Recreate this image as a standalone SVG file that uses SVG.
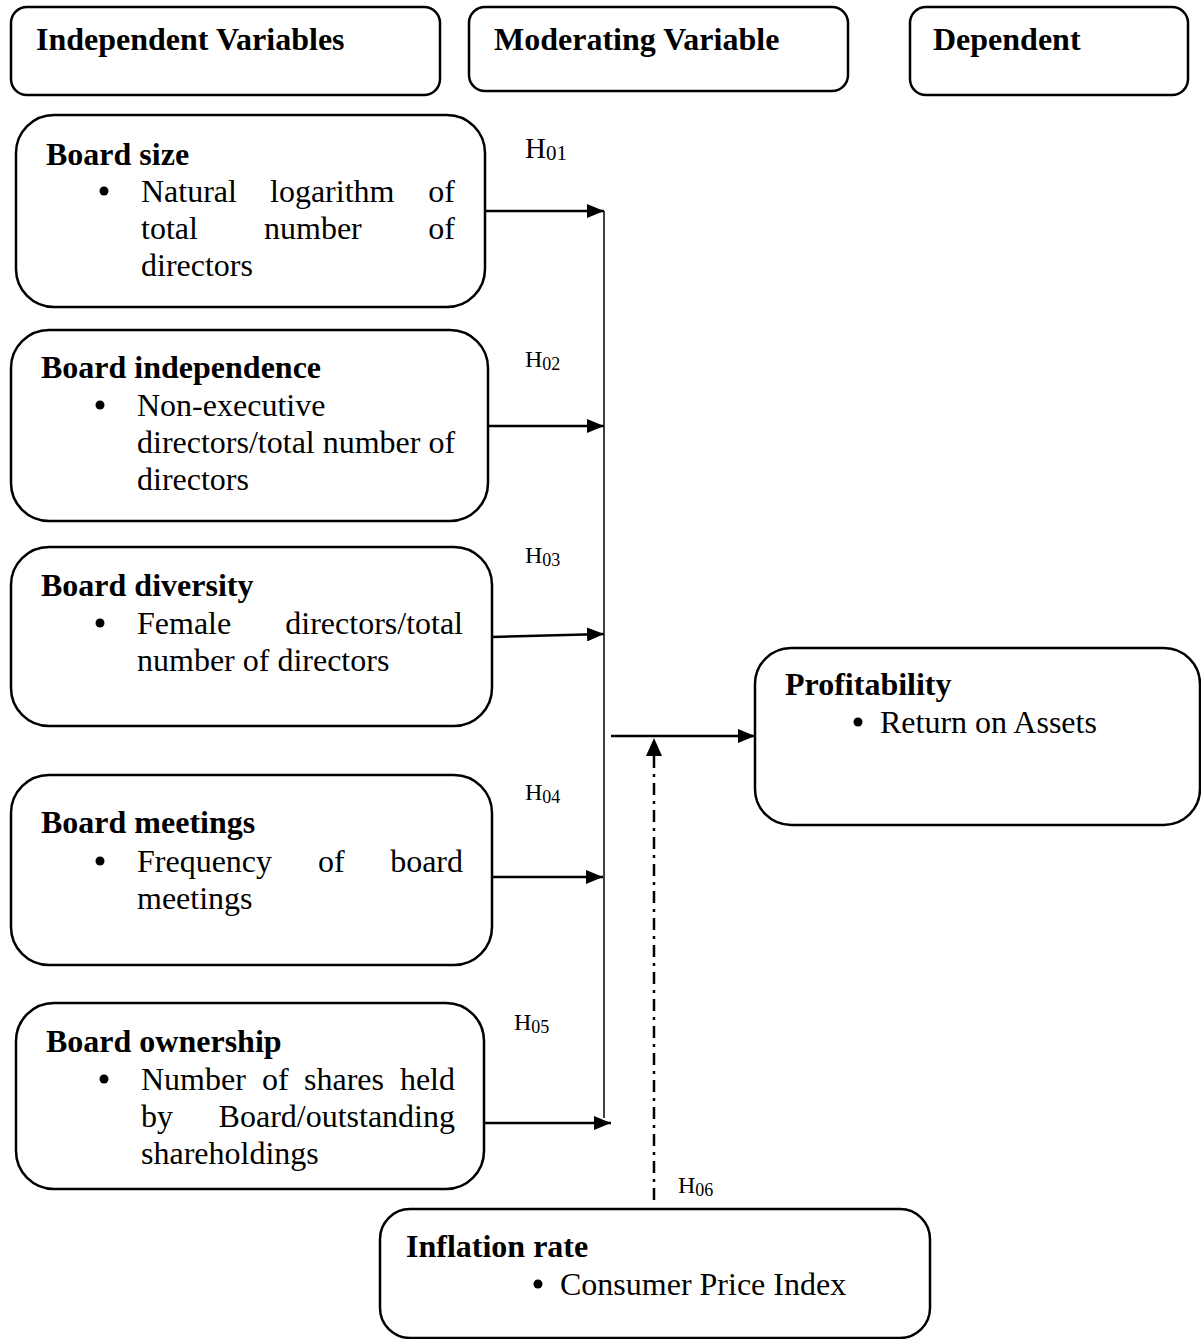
<svg xmlns="http://www.w3.org/2000/svg" width="1201" height="1339" viewBox="0 0 1201 1339">
<style>
.box{fill:#fff;stroke:#000;stroke-width:2.5}
.t{font-family:"Liberation Serif","Times New Roman",serif;font-size:32px;fill:#000}
.b{font-weight:bold}
.h{font-family:"Liberation Serif","Times New Roman",serif;font-size:24px;fill:#000}
.h1{font-size:29px}
.sub{font-size:18px}
.sub1{font-size:21px}
.ln{stroke:#000;stroke-width:2.5;fill:none}
.thin{stroke:#000;stroke-width:1.5;fill:none}
.dd{stroke:#000;stroke-width:2.5;fill:none;stroke-dasharray:12 6 3 6}
</style>
<defs>
<marker id="ah" markerUnits="userSpaceOnUse" markerWidth="18" markerHeight="14" refX="17" refY="7" orient="auto">
<path d="M0,0 L17,7 L0,14 Z" fill="#000"/>
</marker>
</defs>
<rect width="1201" height="1339" fill="#fff"/>

<g id="hdr-independent">
<rect class="box" x="11" y="7" width="429" height="88" rx="16"/>
<text class="t b" x="36" y="50">Independent Variables</text>
</g>
<g id="hdr-moderating">
<rect class="box" x="469" y="7" width="379" height="84" rx="16"/>
<text class="t b" x="494" y="50">Moderating Variable</text>
</g>
<g id="hdr-dependent">
<rect class="box" x="910" y="7" width="278" height="88" rx="16"/>
<text class="t b" x="933" y="50">Dependent</text>
</g>

<g id="board-size">
<rect class="box" x="16" y="115" width="469" height="192" rx="38"/>
<text class="t b" x="46" y="165">Board size</text>
<circle cx="104" cy="191" r="4.5" fill="#000"/>
<text class="t" y="202"><tspan x="141">Natural</tspan><tspan x="270">logarithm</tspan><tspan x="455" text-anchor="end">of</tspan></text>
<text class="t" y="239"><tspan x="141">total</tspan><tspan x="264">number</tspan><tspan x="455" text-anchor="end">of</tspan></text>
<text class="t" x="141" y="276">directors</text>
</g>

<g id="board-independence">
<rect class="box" x="11" y="330" width="477" height="191" rx="38"/>
<text class="t b" x="41" y="378">Board independence</text>
<circle cx="100" cy="405" r="4.5" fill="#000"/>
<text class="t" x="137" y="416">Non-executive</text>
<text class="t" x="137" y="453">directors/total number of</text>
<text class="t" x="137" y="490">directors</text>
</g>

<g id="board-diversity">
<rect class="box" x="11" y="547" width="481" height="179" rx="38"/>
<text class="t b" x="41" y="596">Board diversity</text>
<circle cx="100" cy="623" r="4.5" fill="#000"/>
<text class="t" y="634"><tspan x="137">Female</tspan><tspan x="463" text-anchor="end">directors/total</tspan></text>
<text class="t" x="137" y="671">number of directors</text>
</g>

<g id="board-meetings">
<rect class="box" x="11" y="775" width="481" height="190" rx="38"/>
<text class="t b" x="41" y="833">Board meetings</text>
<circle cx="100" cy="861" r="4.5" fill="#000"/>
<text class="t" y="872"><tspan x="137">Frequency</tspan><tspan x="318">of</tspan><tspan x="463" text-anchor="end">board</tspan></text>
<text class="t" x="137" y="909">meetings</text>
</g>

<g id="board-ownership">
<rect class="box" x="16" y="1003" width="468" height="186" rx="38"/>
<text class="t b" x="46" y="1052">Board ownership</text>
<circle cx="104" cy="1079" r="4.5" fill="#000"/>
<text class="t" y="1090"><tspan x="141">Number</tspan><tspan x="262">of</tspan><tspan x="304">shares</tspan><tspan x="455" text-anchor="end">held</tspan></text>
<text class="t" y="1127"><tspan x="141">by</tspan><tspan x="455" text-anchor="end">Board/outstanding</tspan></text>
<text class="t" x="141" y="1164">shareholdings</text>
</g>

<g id="profitability">
<rect class="box" x="755" y="648" width="445" height="177" rx="36"/>
<text class="t b" x="785" y="695">Profitability</text>
<circle cx="858" cy="722" r="4.5" fill="#000"/>
<text class="t" x="880" y="733">Return on Assets</text>
</g>

<g id="inflation-rate">
<rect class="box" x="380" y="1209" width="550" height="129" rx="30"/>
<text class="t b" x="406" y="1257">Inflation rate</text>
<circle cx="538" cy="1284" r="4.5" fill="#000"/>
<text class="t" x="560" y="1295">Consumer Price Index</text>
</g>

<g id="connectors">
<line class="thin" x1="604" y1="211" x2="604" y2="1118"/>
<line class="ln" x1="485" y1="211" x2="604" y2="211" marker-end="url(#ah)"/>
<line class="ln" x1="488" y1="426" x2="604" y2="426" marker-end="url(#ah)"/>
<line class="ln" x1="492" y1="637" x2="604" y2="634" marker-end="url(#ah)"/>
<line class="ln" x1="492" y1="877" x2="603" y2="877" marker-end="url(#ah)"/>
<line class="ln" x1="484" y1="1123" x2="611" y2="1123" marker-end="url(#ah)"/>
<line class="ln" x1="611" y1="736" x2="755" y2="736" marker-end="url(#ah)"/>
<line class="dd" x1="654" y1="1200" x2="654" y2="756"/>
<path d="M646,756 L654,738 L662,756 Z" fill="#000"/>
</g>

<g id="labels">
<text class="h h1" x="525" y="158">H<tspan class="sub1" dy="2">01</tspan></text>
<text class="h" x="525" y="367">H<tspan class="sub" dy="3">02</tspan></text>
<text class="h" x="525" y="563">H<tspan class="sub" dy="3">03</tspan></text>
<text class="h" x="525" y="800">H<tspan class="sub" dy="3">04</tspan></text>
<text class="h" x="514" y="1030">H<tspan class="sub" dy="3">05</tspan></text>
<text class="h" x="678" y="1193">H<tspan class="sub" dy="3">06</tspan></text>
</g>
</svg>
